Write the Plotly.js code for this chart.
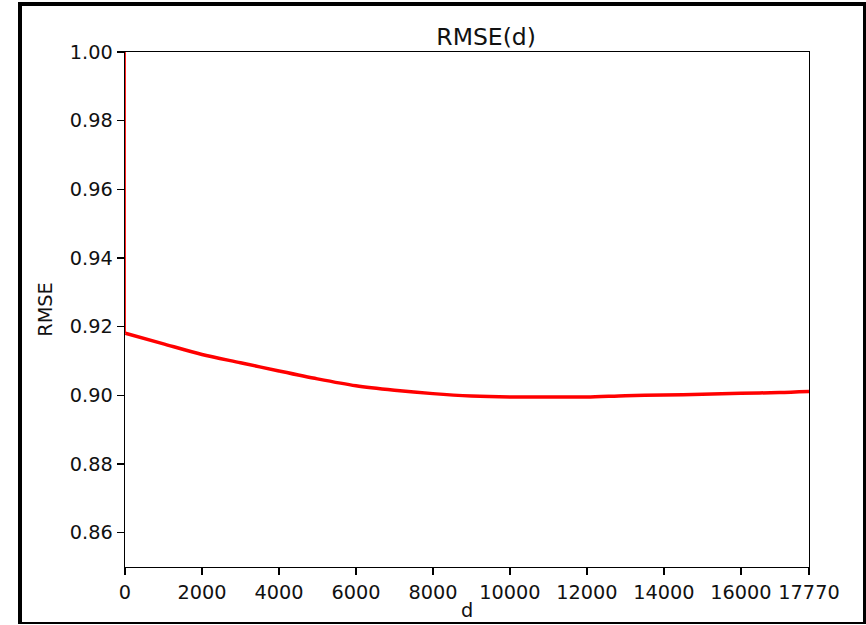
<!DOCTYPE html>
<html>
<head>
<meta charset="utf-8">
<script src="https://cdn.plot.ly/plotly-3.0.1.min.js"></script>
<style>
  html, body { margin: 0; padding: 0; background: #fff; width: 866px; height: 625px; overflow: hidden; }
  #frame { position: absolute; left: 18px; top: 2px; width: 848px; height: 622px; box-sizing: border-box; border: 4px solid #000; border-bottom-width: 2px; border-right-width: 3px; }
  #chart { width: 841px; height: 616px; }
</style>
</head>
<body>
<div id="frame"><div id="chart"></div></div>
<script>
// Data
const startD = [0, 10];
const startRmse = [3.0, 0.9181];
const dValues = [10, 1000, 2000, 3000, 4000, 5000, 6000, 7000, 8000, 9000, 10000, 11000, 12000, 13000, 14000, 15000, 16000, 17000, 17770];
const rmseValues = [0.9181, 0.9150, 0.9119, 0.9095, 0.9071, 0.9048, 0.9028, 0.9015, 0.9005, 0.8998, 0.8995, 0.8995, 0.8995, 0.8999, 0.9001, 0.9003, 0.9006, 0.9008, 0.9011];
const xTickVals = [0, 2000, 4000, 6000, 8000, 10000, 12000, 14000, 16000, 17770];
const xTickText = ["0", "2000", "4000", "6000", "8000", "10000", "12000", "14000", "16000", "17770"];
const yTickVals = [0.86, 0.88, 0.90, 0.92, 0.94, 0.96, 0.98, 1.00];
const yTickText = ["0.86", "0.88", "0.90", "0.92", "0.94", "0.96", "0.98", "1.00"];

const font = { family: "DejaVu Sans", size: 19.3, color: "#111" };

Plotly.newPlot("chart", [{
  x: startD,
  y: startRmse,
  type: "scatter",
  mode: "lines",
  line: { color: "#ff0000", width: 1 },
  hoverinfo: "skip"
}, {
  x: dValues,
  y: rmseValues,
  type: "scatter",
  mode: "lines",
  line: { color: "#ff0000", width: 3.5, shape: "spline", smoothing: 0.8 },
  hoverinfo: "skip"
}], {
  width: 841, height: 616,
  margin: { l: 103, r: 54, t: 46, b: 55 },
  paper_bgcolor: "#fff", plot_bgcolor: "#fff",
  showlegend: false,
  font: font,
  title: { text: "RMSE(d)", font: { family: "DejaVu Sans", size: 23.5, color: "#111" }, x: 0.528, xref: "paper", xanchor: "center", y: 1, yref: "paper", yanchor: "bottom", pad: { b: 7 } },
  xaxis: {
    range: [0, 17770], tickmode: "array", tickvals: xTickVals, ticktext: xTickText,
    showgrid: false, zeroline: false, showline: true, linecolor: "#000", linewidth: 1.4, mirror: true,
    layer: "above traces",
    ticks: "outside", ticklen: 7, tickwidth: 1.3, tickcolor: "#000",
    tickfont: font,
    title: { text: "d", font: font, standoff: 1 }
  },
  yaxis: {
    range: [0.85, 1.00], tickmode: "array", tickvals: yTickVals, ticktext: yTickText,
    showgrid: false, zeroline: false, showline: true, linecolor: "#000", linewidth: 1.4, mirror: true,
    layer: "above traces",
    ticks: "outside", ticklen: 7, tickwidth: 1.3, tickcolor: "#000",
    tickfont: font,
    title: { text: "RMSE", font: font, standoff: 12 }
  }
}, { staticPlot: true, displayModeBar: false });
</script>
</body>
</html>
